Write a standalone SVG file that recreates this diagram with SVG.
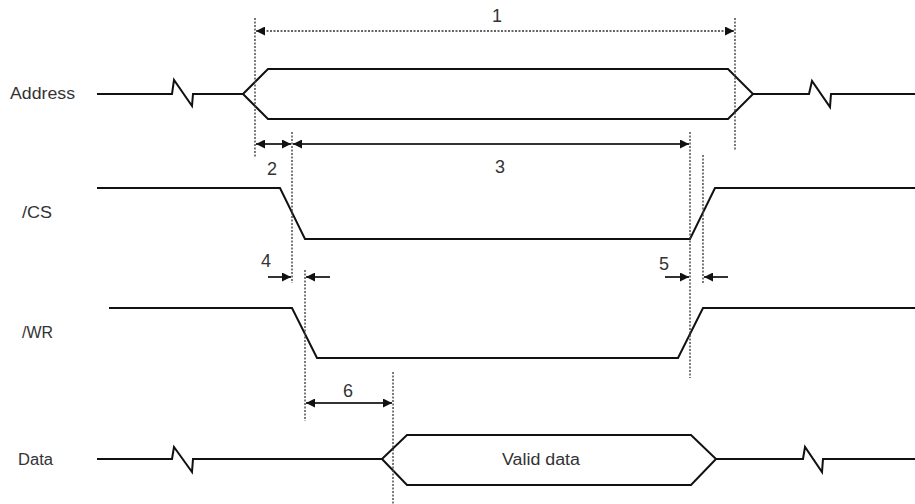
<svg xmlns="http://www.w3.org/2000/svg" width="915" height="504" viewBox="0 0 915 504">
<defs>
<style>
.sig{fill:none;stroke:#111;stroke-width:2;stroke-linejoin:miter}
.guide{fill:none;stroke:#444;stroke-width:1.4;stroke-dasharray:2 1.5}
.dim{fill:none;stroke:#333;stroke-width:2}
.dimd{fill:none;stroke:#333;stroke-width:1.6;stroke-dasharray:2 1.5}
.lbl{font-family:"Liberation Sans",Arial,sans-serif;font-size:16px;fill:#333}
.num{font-family:"Liberation Sans",Arial,sans-serif;font-size:18px;fill:#333;text-anchor:middle}
</style>
<marker id="ah" viewBox="0 0 10 10" refX="10" refY="5" markerWidth="10" markerHeight="9" markerUnits="userSpaceOnUse" orient="auto-start-reverse">
<path d="M0,0 L10,5 L0,10 z" fill="#111"/>
</marker>
</defs>
<rect width="915" height="504" fill="#fff"/>

<g id="address">
<text class="lbl" x="10" y="99" textLength="65" lengthAdjust="spacingAndGlyphs">Address</text>
<path class="sig" d="M97,94 H172 L174,80 L192,106 L193,94 H243 L268,69 H728 L753,94 L728,119 H268 L243,94"/>
<path class="sig" d="M753,94 H809 L812,81 L830,107 L831,94 H915"/>
</g>

<g id="cs">
<text class="lbl" x="22" y="218" textLength="30" lengthAdjust="spacingAndGlyphs">/CS</text>
<path class="sig" d="M97,188 H280 L305,239 H690 L715,188 H915"/>
</g>

<g id="wr">
<text class="lbl" x="22" y="338" textLength="31" lengthAdjust="spacingAndGlyphs">/WR</text>
<path class="sig" d="M109,308 H292 L317,358 H678 L703,308 H915"/>
</g>

<g id="data">
<text class="lbl" x="18" y="465" textLength="35" lengthAdjust="spacingAndGlyphs">Data</text>
<path class="sig" d="M97,459 H172 L174,447 L192,472 L193,459 H382 L407,435 H691 L716,459 L691,485 H407 L382,459"/>
<path class="sig" d="M716,459 H803 L805,447 L822,472 L823,459 H915"/>
<text class="lbl" x="502" y="465" textLength="78" lengthAdjust="spacingAndGlyphs">Valid data</text>
</g>

<g id="guides">
<line class="guide" x1="255" y1="18" x2="255" y2="157"/>
<line class="guide" x1="735" y1="18" x2="735" y2="151"/>
<line class="guide" x1="292" y1="132" x2="292" y2="283"/>
<line class="guide" x1="690" y1="132" x2="690" y2="378"/>
<line class="guide" x1="703" y1="155" x2="703" y2="283"/>
<line class="guide" x1="305" y1="270" x2="305" y2="421"/>
<line class="guide" x1="393" y1="372" x2="393" y2="504"/>
</g>

<g id="connectors">
<line class="dimd" x1="256" y1="31" x2="734" y2="31" marker-start="url(#ah)" marker-end="url(#ah)"/>
<line class="dim" x1="256" y1="144" x2="291" y2="144" marker-start="url(#ah)" marker-end="url(#ah)"/>
<line class="dim" x1="293" y1="144" x2="689" y2="144" marker-start="url(#ah)" marker-end="url(#ah)"/>
<line class="dim" x1="268" y1="277" x2="291" y2="277" marker-end="url(#ah)"/>
<line class="dim" x1="330" y1="277" x2="306" y2="277" marker-end="url(#ah)"/>
<line class="dim" x1="665" y1="277" x2="689" y2="277" marker-end="url(#ah)"/>
<line class="dim" x1="728" y1="277" x2="704" y2="277" marker-end="url(#ah)"/>
<line class="dim" x1="306" y1="403" x2="392" y2="403" marker-start="url(#ah)" marker-end="url(#ah)"/>
</g>

<g id="labels">
<text class="num" x="497" y="22">1</text>
<text class="num" x="272" y="175">2</text>
<text class="num" x="500" y="173">3</text>
<text class="num" x="266" y="267">4</text>
<text class="num" x="664" y="270">5</text>
<text class="num" x="348" y="397">6</text>
</g>
</svg>
